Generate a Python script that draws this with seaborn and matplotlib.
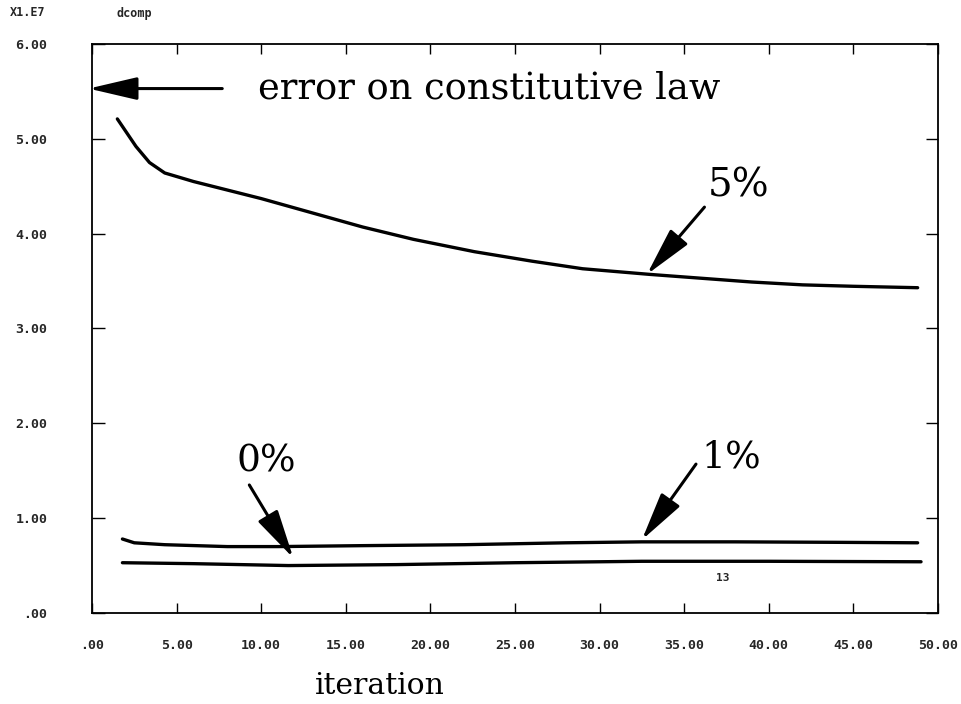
import pandas as pd
import matplotlib
matplotlib.use("Agg")
import matplotlib.pyplot as plt
import seaborn as sns

# ---------- DATA (values in units of 1e7) ----------
iter_5 = [1.5, 2.6, 3.4, 4.3, 6.0, 8.0, 10.0, 13.0, 16.0, 19.0, 22.6, 26.0, 29.0, 33.0, 36.0, 39.0, 42.0, 45.0, 48.8]
err_5 = [5.21, 4.92, 4.75, 4.64, 4.55, 4.46, 4.37, 4.22, 4.07, 3.94, 3.81, 3.71, 3.63, 3.57, 3.53, 3.49, 3.46, 3.445, 3.43]

iter_1 = [1.8, 2.5, 4.3, 8.0, 11.0, 16.0, 22.0, 28.0, 32.5, 38.0, 44.0, 48.8]
err_1 = [0.78, 0.74, 0.72, 0.70, 0.70, 0.71, 0.72, 0.74, 0.75, 0.75, 0.745, 0.74]

iter_0 = [1.8, 6.0, 11.6, 18.0, 25.0, 32.5, 40.0, 49.0]
err_0 = [0.53, 0.52, 0.50, 0.51, 0.53, 0.545, 0.545, 0.54]

x_ticks = [0, 5, 10, 15, 20, 25, 30, 35, 40, 45, 50]
x_labels = [".00", "5.00", "10.00", "15.00", "20.00", "25.00", "30.00", "35.00", "40.00", "45.00", "50.00"]
y_ticks = [0, 1, 2, 3, 4, 5, 6]
y_labels = [".00", "1.00", "2.00", "3.00", "4.00", "5.00", "6.00"]

df = pd.concat([
    pd.DataFrame({"iteration": iter_5, "dcomp": err_5, "noise": "5%"}),
    pd.DataFrame({"iteration": iter_1, "dcomp": err_1, "noise": "1%"}),
    pd.DataFrame({"iteration": iter_0, "dcomp": err_0, "noise": "0%"}),
])

# ---------- STYLE ----------
sns.set_theme(style="white")
plt.rcParams["font.family"] = ["DejaVu Serif", "Liberation Serif"]
mono = dict(family=["DejaVu Sans Mono", "Liberation Mono"], weight="bold", size=9.5)

fig = plt.figure(figsize=(9.62, 7.04), dpi=100)
ax = fig.add_axes([0.0956, 0.1293, 0.8794, 0.8082])

sns.lineplot(data=df, x="iteration", y="dcomp", units="noise", estimator=None,
             color="black", linewidth=2.4, sort=False, ax=ax, legend=False)

ax.set_xlim(0, 50)
ax.set_ylim(0, 6)
ax.set_xticks(x_ticks)
ax.set_yticks(y_ticks)
ax.set_xticklabels(x_labels, fontdict=mono)
ax.set_yticklabels(y_labels, fontdict=mono)
ax.tick_params(axis="x", direction="in", length=7, width=1, pad=19, top=True, bottom=True, color="black")
ax.tick_params(axis="y", direction="in", length=9, width=1, pad=32, left=True, right=True, color="black")
for s in ax.spines.values():
    s.set_color("black")
    s.set_linewidth(1.3)
ax.set_xlabel("")
ax.set_ylabel("")

# ---------- ANNOTATIONS ----------
arrow = dict(arrowstyle="-|>,head_length=1.5,head_width=0.35", color="black", lw=2.2,
             mutation_scale=20, shrinkA=0, shrinkB=0)

ax.annotate("", xy=(-0.2, 5.53), xytext=(7.7, 5.53), arrowprops=arrow, annotation_clip=False)
ax.text(9.8, 5.53, "error on constitutive law", fontsize=26.5, va="center", ha="left", color="black")

ax.annotate("", xy=(32.8, 3.57), xytext=(36.2, 4.28), arrowprops=arrow)
ax.text(38.2, 4.5, "5%", fontsize=28, ha="center", va="center", color="black")

ax.annotate("", xy=(11.9, 0.58), xytext=(9.3, 1.35), arrowprops=arrow)
ax.text(10.3, 1.6, "0%", fontsize=27, ha="center", va="center", color="black")

ax.annotate("", xy=(32.5, 0.77), xytext=(35.7, 1.57), arrowprops=arrow)
ax.text(37.8, 1.64, "1%", fontsize=27, ha="center", va="center", color="black")

ax.text(37.3, 0.37, "13", fontdict=dict(mono, size=8), ha="center", va="center")

fig.text(10 / 962, 1 - 13 / 704, "X1.E7", fontdict=dict(mono, size=8.5), ha="left", va="center")
fig.text(117 / 962, 1 - 13 / 704, "dcomp", fontdict=dict(mono, size=8.5), ha="left", va="center")
fig.text(380 / 962, 1 - 686 / 704, "iteration", fontsize=21.5, ha="center", va="center", color="black")

fig.savefig("out.png", dpi=100, facecolor="white")
